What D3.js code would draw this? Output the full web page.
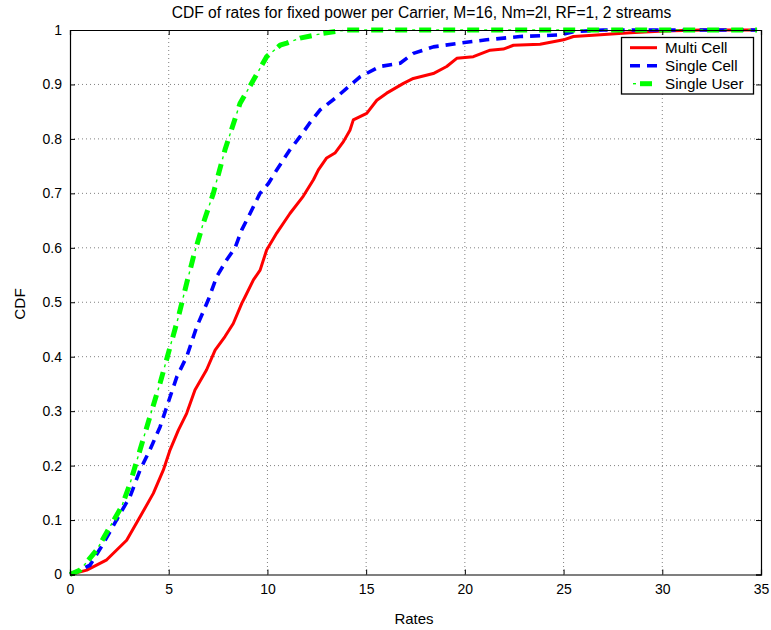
<!DOCTYPE html>
<html><head><meta charset="utf-8">
<script src="https://cdn.jsdelivr.net/npm/d3@7"></script>
<style>body{margin:0;background:#fff}svg{display:block}text{font-family:"Liberation Sans",Arial,sans-serif}</style>
</head><body>
<svg id="c" width="771" height="630"></svg>
<script>
const xTicks = [0,5,10,15,20,25,30,35];
const yTicks = [0,0.1,0.2,0.3,0.4,0.5,0.6,0.7,0.8,0.9,1];
const seriesNames = ["Multi Cell","Single Cell","Single User"];

const multiX = [0,0.85,1.86,2.87,3.55,4.22,4.73,5.07,5.49,5.91,6.33,6.92,7.35,7.85,8.27,8.7,8.87,9.29,9.63,9.96,10.47,11.14,11.82,12.33,12.58,13.0,13.42,13.85,14.18,14.35,15.03,15.54,16.04,16.89,17.39,18.4,19.08,19.59,20.43,21.28,21.95,22.46,23.81,25.0,25.5,26.68,28.37,30.1,32.0,34.8];
const multiY = [0,0.008,0.027,0.063,0.106,0.149,0.192,0.229,0.265,0.296,0.339,0.376,0.412,0.437,0.461,0.498,0.51,0.541,0.559,0.596,0.627,0.663,0.695,0.725,0.743,0.765,0.774,0.795,0.816,0.835,0.847,0.871,0.884,0.902,0.911,0.92,0.933,0.948,0.951,0.963,0.965,0.972,0.974,0.982,0.988,0.991,0.995,0.998,1,1];

const singleCellX = [0,1.01,1.69,2.45,3.04,3.55,4.05,4.56,4.9,5.41,5.91,6.42,7.0,7.43,7.94,8.36,8.7,9.12,9.62,10.05,10.47,11.14,11.65,12.16,12.66,13.51,14.69,15.7,16.72,17.39,18.4,19.76,21.1,22.8,24.82,25.5,27,34.8];
const singleCellY = [0,0.017,0.057,0.106,0.143,0.192,0.229,0.271,0.308,0.363,0.4,0.455,0.504,0.547,0.578,0.6,0.633,0.663,0.7,0.718,0.743,0.78,0.804,0.83,0.853,0.877,0.914,0.933,0.939,0.957,0.969,0.976,0.982,0.988,0.991,0.997,1,1];

const singleUserX = [0,0.51,1.35,2.03,2.62,3.04,3.55,4.05,4.56,5.07,5.49,5.91,6.3,6.75,7.26,7.85,8.61,9.29,9.96,10.64,10.98,11.65,12.83,14.0,34.8];
const singleUserY = [0,0.008,0.045,0.088,0.125,0.167,0.229,0.29,0.351,0.418,0.473,0.535,0.59,0.645,0.7,0.78,0.865,0.908,0.951,0.972,0.976,0.985,0.994,1,1];

const seriesX = [multiX, singleCellX, singleUserX];
const seriesY = [multiY, singleCellY, singleUserY];
const colors = ["#ff0000","#0000ff","#00ff00"];

const svg = d3.select("#c");
const L=70,R=761,T=30,B=574.5;
const x = d3.scaleLinear().domain([0,35]).range([L,R]);
const y = d3.scaleLinear().domain([0,1]).range([B,T]);

// grid
const g = svg.append("g");
g.selectAll("line.gx").data(xTicks.slice(1,-1)).join("line")
 .attr("x1",d=>x(d)).attr("x2",d=>x(d)).attr("y1",T).attr("y2",B)
 .attr("stroke","#808080").attr("stroke-width",1).attr("stroke-dasharray","1,3");
g.selectAll("line.gy").data(yTicks.slice(1,-1)).join("line")
 .attr("y1",d=>y(d)).attr("y2",d=>y(d)).attr("x1",L).attr("x2",R)
 .attr("stroke","#808080").attr("stroke-width",1).attr("stroke-dasharray","1,3");

// line styles: each series is a list of stroke layers
const styles = [
  [{w:3, dash:null, off:0}],
  [{w:3.6, dash:"10,7", off:0}],
  [{w:5, dash:"12,12", off:0},{w:1.4, dash:"3,21", off:7}]
];
const line = d3.line().x(d=>x(d[0])).y(d=>y(d[1]));
seriesX.forEach((xs,i)=>{
  const pts = xs.map((v,j)=>[v,seriesY[i][j]]);
  styles[i].forEach(s=>{
    svg.append("path").datum(pts).attr("d",line).attr("fill","none")
     .attr("stroke",colors[i]).attr("stroke-width",s.w)
     .attr("stroke-dasharray",s.dash).attr("stroke-dashoffset",s.off)
     .attr("stroke-linejoin","round");
  });
});

// axes
const fmt = d=> d===0||d===1 ? String(d) : d3.format(".1f")(d);
const ax = svg.append("g").attr("transform",`translate(0,${B})`)
 .call(d3.axisBottom(x).tickValues(xTicks).tickSize(-5).tickPadding(10).tickFormat(d3.format("d")));
const ay = svg.append("g").attr("transform",`translate(${L},0)`)
 .call(d3.axisLeft(y).tickValues(yTicks).tickSize(-5).tickPadding(8).tickFormat(fmt));
const axT = svg.append("g").attr("transform",`translate(0,${T})`)
 .call(d3.axisTop(x).tickValues(xTicks).tickSize(-5).tickFormat(""));
const ayR = svg.append("g").attr("transform",`translate(${R},0)`)
 .call(d3.axisRight(y).tickValues(yTicks).tickSize(-5).tickFormat(""));
[ax,ay,axT,ayR].forEach(a=>{
  a.selectAll("path").attr("stroke","#000").attr("stroke-width",1.2);
  a.selectAll("line").attr("stroke","#000");
  a.selectAll("text").attr("font-size",14).attr("fill","#000").style("font-family","'Liberation Sans',Arial,sans-serif");
});

// titles
svg.append("text").attr("x",(L+R)/2+6).attr("y",17.5).attr("text-anchor","middle")
 .attr("font-size",15.6).text("CDF of rates for fixed power per Carrier, M=16, Nm=2l, RF=1, 2 streams");
svg.append("text").attr("x",414).attr("y",624).attr("text-anchor","middle")
 .attr("font-size",15).text("Rates");
svg.append("text").attr("transform",`translate(25,304) rotate(-90)`).attr("text-anchor","middle")
 .attr("font-size",15.3).text("CDF");

// legend
const lg = svg.append("g");
lg.append("rect").attr("x",621.5).attr("y",37.5).attr("width",132).attr("height",56.5)
 .attr("fill","#fff").attr("stroke","#000").attr("stroke-width",1.3);
seriesNames.forEach((n,i)=>{
  const yy = 47.7 + i*18;
  styles[i].forEach(s=>{
    lg.append("line").attr("x1",630).attr("x2",657).attr("y1",yy).attr("y2",yy)
     .attr("stroke",colors[i]).attr("stroke-width",s.w)
     .attr("stroke-dasharray",s.dash).attr("stroke-dashoffset",i===2 ? s.off-10 : s.off);
  });
  lg.append("text").attr("x",665).attr("y",yy+5).attr("font-size",15.2).text(n);
});
</script>
</body></html>
